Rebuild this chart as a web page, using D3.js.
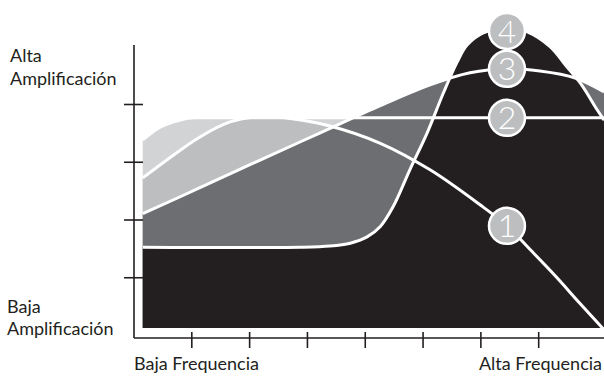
<!DOCTYPE html>
<html>
<head>
<meta charset="utf-8">
<script src="https://cdn.jsdelivr.net/npm/d3@7"></script>
<style>
  body { margin: 0; background: #fff; }
  svg text { font-family: Lato, "Open Sans", sans-serif; fill: #231f20; }
</style>
</head>
<body>
<script>
    var w = 604;
    var h = 376;

    // Data (frequency units on x, amplification units on y)
    var xTicks = [1, 2, 3, 4, 5, 6, 7];
    var yTicks = [1, 2, 3, 4];
    var baseLevel = 0.12;

    var curve2X = [0.16, 0.46, 0.80, 1.06, 2.0, 4.0, 6.0, 8.14];
    var curve2Y = [3.38, 3.60, 3.72, 3.76, 3.76, 3.76, 3.76, 3.76];

    var curve1X = [0.16, 0.63, 1.15, 1.67, 2.19, 2.71, 3.40, 4.27, 5.13, 6.00, 6.46, 6.86, 7.29, 7.72, 8.14];
    var curve1Y = [2.72, 3.07, 3.43, 3.69, 3.78, 3.75, 3.62, 3.32, 2.86, 2.25, 1.89, 1.48, 1.03, 0.55, 0.09];

    var curve3X = [0.16, 1.15, 2.19, 3.23, 4.27, 5.13, 5.82, 6.46, 7.03, 7.64, 8.14];
    var curve3Y = [2.10, 2.55, 3.03, 3.50, 3.97, 4.33, 4.54, 4.61, 4.57, 4.45, 4.21];

    var curve4X = [0.16, 2.88, 3.40, 3.75, 4.04, 4.27, 4.49, 4.78, 5.08, 5.36, 5.60, 5.77, 6.05, 6.46, 6.81, 7.21, 7.50, 7.73, 8.02, 8.14];
    var curve4Y = [1.52, 1.52, 1.54, 1.59, 1.70, 1.88, 2.22, 2.86, 3.50, 4.19, 4.73, 5.02, 5.23, 5.32, 5.25, 4.99, 4.64, 4.36, 3.90, 3.72];

    // label position on each curve (x value)
    var badgeX = 6.46;

    function zip(xs, ys) {
        return xs.map(function(x, i) { return {x: x, y: ys[i]}; });
    }

    // back to front
    var layers = [
        {name: "2", pts: zip(curve2X, curve2Y), fill: "#d1d3d4", curve: d3.curveMonotoneX},
        {name: "1", pts: zip(curve1X, curve1Y), fill: "#bcbec0", curve: d3.curveCatmullRom},
        {name: "3", pts: zip(curve3X, curve3Y), fill: "#6d6e71", curve: d3.curveCatmullRom},
        {name: "4", pts: zip(curve4X, curve4Y), fill: "#231f20", curve: d3.curveCatmullRom}
    ];

    var xScale = d3.scaleLinear().domain([0, 8]).range([133.5, 596]);
    var yScale = d3.scaleLinear().domain([0, 4]).range([335, 104]);

    var svg = d3.select("body").append("svg")
                .attr("width", w)
                .attr("height", h);

    function areaFor(l) {
        return d3.area()
                .curve(l.curve)
                .x(function(d) { return xScale(d.x); })
                .y0(yScale(baseLevel))
                .y1(function(d) { return yScale(d.y); })(l.pts);
    }

    function lineFor(l) {
        return d3.line()
                .curve(l.curve)
                .x(function(d) { return xScale(d.x); })
                .y(function(d) { return yScale(d.y); })(l.pts);
    }

    svg.selectAll("path.fill")
        .data(layers)
        .enter()
        .append("path")
        .attr("class", "fill")
        .attr("d", areaFor)
        .attr("fill", function(d) { return d.fill; });

    svg.selectAll("path.edge")
        .data(layers)
        .enter()
        .append("path")
        .attr("class", "edge")
        .attr("d", lineFor)
        .attr("fill", "none")
        .attr("stroke", "#fff")
        .attr("stroke-width", 3);

    // Axes
    var xAxis = d3.axisBottom(xScale).tickValues(xTicks).tickSize(10).tickFormat("");
    var yAxis = d3.axisLeft(yScale).tickValues(yTicks).tickSize(10).tickFormat("");

    var gx = svg.append("g").attr("transform", "translate(0,338)").call(xAxis);
    gx.select(".domain").attr("d", "M134,0H604");
    gx.selectAll(".tick line").attr("y1", -6).attr("y2", 10);

    var gy = svg.append("g").attr("transform", "translate(134,0)").call(yAxis);
    gy.select(".domain").attr("d", "M0,45V338");
    gy.selectAll(".tick line").attr("x1", 9).attr("x2", -10);

    svg.selectAll(".domain, .tick line")
        .attr("stroke", "#231f20")
        .attr("stroke-width", 1.6);

    // Badges
    var badges = layers.map(function(l) {
        var y = d3.scaleLinear()
                  .domain(l.pts.map(function(p) { return p.x; }))
                  .range(l.pts.map(function(p) { return p.y; }));
        return {label: l.name, x: badgeX, y: y(badgeX)};
    });

    var bg = svg.selectAll("g.badge")
        .data(badges)
        .enter()
        .append("g")
        .attr("class", "badge")
        .attr("transform", function(d) {
            return "translate(" + xScale(d.x) + "," + Math.max(yScale(d.y), 31) + ")";
        });

    bg.append("circle")
        .attr("r", 18)
        .attr("fill", "#bcbec0")
        .attr("stroke", "#fff")
        .attr("stroke-width", 2.5);

    bg.append("text")
        .attr("text-anchor", "middle")
        .attr("dy", "0.36em")
        .style("font-size", "32px")
        .style("font-weight", 300)
        .style("fill", "#fff")
        .text(function(d) { return d.label; });

    // Texts
    var fs = "18px";
    svg.append("text").attr("x", 10).attr("y", 62).style("font-size", fs).text("Alta");
    svg.append("text").attr("x", 10).attr("y", 85).style("font-size", fs).text("Amplificación");
    svg.append("text").attr("x", 7).attr("y", 313).style("font-size", fs).text("Baja");
    svg.append("text").attr("x", 7).attr("y", 335).style("font-size", fs).text("Amplificación");
    svg.append("text").attr("x", 134).attr("y", 370).style("font-size", fs).text("Baja Frequencia");
    svg.append("text").attr("x", 602).attr("y", 370).attr("text-anchor", "end").style("font-size", fs).text("Alta Frequencia");
</script>
</body>
</html>
